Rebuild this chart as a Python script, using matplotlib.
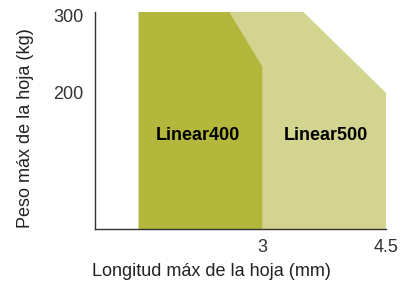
import matplotlib
matplotlib.use("Agg")
import matplotlib.pyplot as plt

plt.rcParams['font.family'] = ['Liberation Sans', 'DejaVu Sans']

# envelope of each model (blade length mm, max weight kg)
l400_x = [1.5, 1.5, 2.6, 3.0, 3.0]
l400_y = [23, 305, 305, 234, 23]
l500_x = [1.5, 1.5, 3.5, 4.5, 4.5]
l500_y = [23, 305, 305, 200, 23]

labels = ['Linear400', 'Linear500']
label_x = [2.22, 3.77]
label_y = [144, 144]

xticks = [3, 4.5]
xticklabels = ['3', '4.5']
yticks = [200, 300]

fig = plt.figure(figsize=(4.11, 2.86), dpi=100)
ax = fig.add_axes([0.231, 0.199, 0.708, 0.759])

ax.fill(l500_x, l500_y, color='#d3d48f', lw=0)
ax.fill(l400_x, l400_y, color='#b3b83d', lw=0)

for t, x, y in zip(labels, label_x, label_y):
    ax.text(x, y, t, ha='center', va='center', fontsize=13, fontweight='bold', color='black')

ax.set_xlim(0.97, 4.5)
ax.set_ylim(23, 305)
ax.set_xticks(xticks)
ax.set_xticklabels(xticklabels)
ax.set_yticks(yticks)
ax.tick_params(axis='both', length=0, labelsize=13, colors='#333333')
ax.tick_params(axis='y', pad=8)
ax.tick_params(axis='x', pad=7)
for s in ['top', 'right']:
    ax.spines[s].set_visible(False)
for s in ['left', 'bottom']:
    ax.spines[s].set_color('#333333')
    ax.spines[s].set_linewidth(1)

ax.set_xlabel('Longitud máx de la hoja (mm)', fontsize=13, color='#222222')
ax.set_ylabel('Peso máx de la hoja (kg)', fontsize=13, color='#222222')
ax.xaxis.set_label_coords(0.40, -0.194)
ax.yaxis.set_label_coords(-0.24, 0.465)
ax.xaxis.label.set_va('center')
ax.yaxis.label.set_va('center')

fig.savefig('out.png', dpi=100)
